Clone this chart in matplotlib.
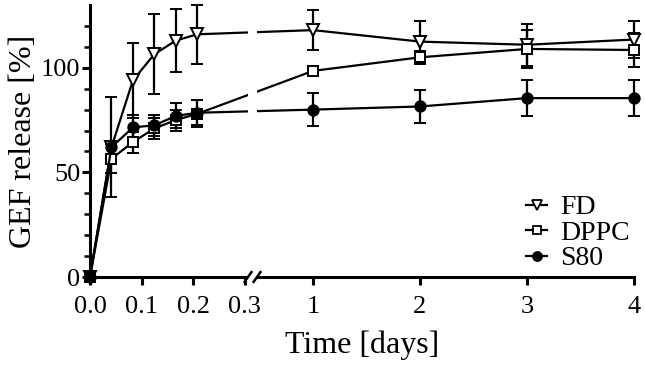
import numpy as np
import matplotlib
matplotlib.use("Agg")
import matplotlib.pyplot as plt
from matplotlib.ticker import FixedLocator
from matplotlib.lines import Line2D
import matplotlib.transforms as mtransforms

plt.rcParams['font.family'] = ['Liberation Serif', 'DejaVu Serif']

# ---- data ----
time_days = [0.0, 1/24, 2/24, 3/24, 4/24, 5/24, 1.0, 2.0, 3.0, 4.0]
fd_mean = [0, 62, 94, 106.5, 113, 116, 118, 112.5, 111, 113.5]
fd_err = [0, 24, 18, 19, 15, 14, 9.5, 10, 10, 9]
dppc_mean = [0, 56.5, 64.5, 71, 75, 78, 98.5, 105, 109, 108.5]
dppc_err = [0, 7, 5, 5, 5, 6.5, 2.5, 3, 9, 8]
s80_mean = [0, 62, 71.5, 72.5, 77, 78.5, 80, 81.5, 85.5, 85.5]
s80_err = [0, 3, 6, 5, 6, 6, 7.8, 8, 8.5, 8.5]

series_names = ['FD', 'DPPC', 'S80']

xtick_vals = [0.0, 0.1, 0.2, 0.3, 1, 2, 3, 4]
xtick_labels = ["0.0", "0.1", "0.2", "0.3", "1", "2", "3", "4"]

# ---- broken-axis scale ----
knots_x = np.array([0.0, 0.3, 1.0, 4.0])
knots_u = np.array([0.0, 154.5, 223.0, 544.0])


def fwd(x):
    x = np.asarray(x, dtype=float)
    u = np.interp(x, knots_x, knots_u)
    u = np.where(x < knots_x[0], knots_u[0] + (x - knots_x[0]) * 515.0, u)
    u = np.where(x > knots_x[-1], knots_u[-1] + (x - knots_x[-1]) * 107.0, u)
    return u


def inv(u):
    u = np.asarray(u, dtype=float)
    x = np.interp(u, knots_u, knots_x)
    x = np.where(u < knots_u[0], knots_x[0] + (u - knots_u[0]) / 515.0, x)
    x = np.where(u > knots_u[-1], knots_x[-1] + (u - knots_u[-1]) / 107.0, x)
    return x


fig = plt.figure(figsize=(6.45, 3.65), dpi=100)
ax = fig.add_axes([90 / 645, (365 - 277) / 365, 544 / 645, 272 / 365])
ax.set_xscale('function', functions=(fwd, inv))

lw = 1.6
common = dict(color='black', lw=lw, elinewidth=1.6, capsize=4, capthick=1.6,
              clip_on=False, zorder=3)
ax.errorbar(time_days, fd_mean, yerr=fd_err, marker='v', ms=8.5, mfc='white',
            mec='black', mew=1.4, **common)
ax.errorbar(time_days, dppc_mean, yerr=dppc_err, marker='s', ms=7.5, mfc='white',
            mec='black', mew=1.4, **common)
ax.errorbar(time_days, s80_mean, yerr=s80_err, marker='o', ms=7.5, mfc='black',
            mec='black', mew=1.4, **common)

ax.set_xlim(0, 4)
ax.set_ylim(0, 130)

ax.xaxis.set_major_locator(FixedLocator(xtick_vals))
ax.set_xticklabels(xtick_labels)
ax.xaxis.set_minor_locator(FixedLocator([]))
ax.yaxis.set_major_locator(FixedLocator([0, 50, 100]))
ax.yaxis.set_minor_locator(FixedLocator([10, 20, 30, 40, 60, 70, 80, 90, 110, 120]))

for s in ['top', 'right']:
    ax.spines[s].set_visible(False)
for s in ['left', 'bottom']:
    ax.spines[s].set_linewidth(2.2)

ax.tick_params(axis='both', which='major', direction='out', length=6, width=2.2,
               labelsize=19)
ax.tick_params(axis='y', which='major', pad=1)
ax.tick_params(axis='x', which='major', pad=8)
ax.tick_params(axis='y', which='minor', direction='out', length=4, width=1.8)

ax.set_xlabel('Time [days]', fontsize=23, labelpad=9)
ax.set_ylabel('GEF release [%]', fontsize=23, labelpad=2)

# ---- axis break ----
blend = mtransforms.blended_transform_factory(ax.transData, ax.transAxes)
b1, b2 = 0.336, 0.428
ax.axvspan(b1, b2, ymin=-0.02, ymax=1.0, color='white', zorder=5, clip_on=False, lw=0)
for bx in (b1, b2):
    ax.plot([bx - 0.035, bx + 0.035], [-0.018, 0.018], transform=blend,
            color='black', lw=1.8, clip_on=False, zorder=6)

handles = [
    Line2D([], [], color='black', lw=1.6, marker='v', ms=6.5, mfc='white', mec='black', mew=1.3),
    Line2D([], [], color='black', lw=1.6, marker='s', ms=6, mfc='white', mec='black', mew=1.3),
    Line2D([], [], color='black', lw=1.6, marker='o', ms=6.5, mfc='black', mec='black', mew=1.3),
]
ax.legend(handles, series_names, loc='lower right', bbox_to_anchor=(1.012, -0.02),
          frameon=False, fontsize=20, handlelength=0.75, handletextpad=0.45,
          labelspacing=0.0, borderaxespad=0)

fig.savefig('out.png', dpi=100)
